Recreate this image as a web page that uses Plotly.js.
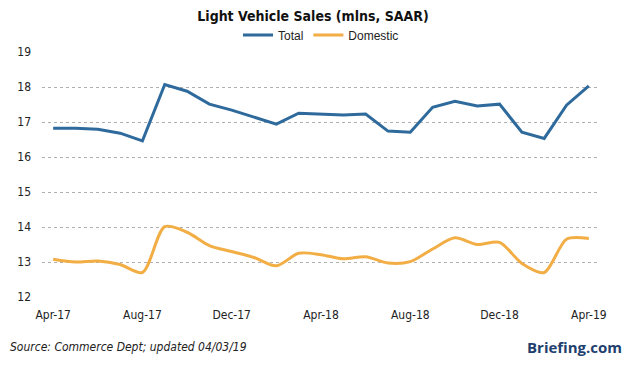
<!DOCTYPE html>
<html>
<head>
<meta charset="utf-8">
<script src="https://cdn.plot.ly/plotly-3.0.1.min.js"></script>
<style>html,body{margin:0;padding:0;background:#fff;}#chart{width:626px;height:367px;}</style>
</head>
<body>
<div id="chart"></div>
<script>
const months = ["Apr-17","May-17","Jun-17","Jul-17","Aug-17","Sep-17","Oct-17","Nov-17","Dec-17",
  "Jan-18","Feb-18","Mar-18","Apr-18","May-18","Jun-18","Jul-18","Aug-18","Sep-18","Oct-18","Nov-18","Dec-18",
  "Jan-19","Feb-19","Mar-19","Apr-19"];
const totalSales = [16.82,16.82,16.79,16.68,16.46,18.07,17.88,17.51,17.34,17.15,16.94,17.25,17.22,17.20,17.23,16.74,16.71,17.42,17.59,17.46,17.51,16.71,16.53,17.48,18.03];
const domesticSales = [13.08,13.00,13.03,12.93,12.70,14.01,13.85,13.47,13.30,13.13,12.89,13.25,13.21,13.09,13.15,12.97,13.01,13.37,13.69,13.50,13.56,12.96,12.70,13.65,13.67];
const tickLabels = ["Apr-17","Aug-17","Dec-17","Apr-18","Aug-18","Dec-18","Apr-19"];
const yTicks = [12,13,14,15,16,17,18,19];

const traces = [
  {x: months, y: totalSales, name: "Total", type: "scatter", mode: "lines",
   line: {color: "#2E6A9C", width: 3}},
  {x: months, y: domesticSales, name: "Domestic", type: "scatter", mode: "lines",
   line: {color: "#F2AE45", width: 3, shape: "spline", smoothing: 0.8}}
];

const layout = {
  width: 626, height: 367,
  margin: {l: 42, r: 26, t: 52, b: 70},
  paper_bgcolor: "#fff", plot_bgcolor: "#fff",
  font: {family: "Liberation Sans, Arial, sans-serif", size: 12, color: "#222"},
  title: {text: "<b>Light Vehicle Sales (mlns, SAAR)</b>", x: 0.5, xanchor: "center", y: 0.955, yanchor: "middle",
          font: {family: "DejaVu Sans Condensed, DejaVu Sans, sans-serif", size: 14, color: "#111"}},
  showlegend: true,
  legend: {orientation: "h", x: 0.5, xanchor: "center", y: 1.01, yanchor: "bottom",
           font: {family: "Liberation Sans Narrow, Liberation Sans, Arial, sans-serif", size: 12, color: "#222"},
           itemwidth: 30, tracegroupgap: 0, bgcolor: "rgba(0,0,0,0)"},
  xaxis: {type: "category", categoryorder: "array", categoryarray: months,
          tickmode: "array", tickvals: tickLabels, ticktext: tickLabels,
          range: [-0.5, 24.5], showgrid: false, showline: false, zeroline: false,
          ticks: "", ticklen: 0, ticklabelstandoff: 9,
          tickfont: {family: "DejaVu Sans Condensed, DejaVu Sans, sans-serif", size: 12, color: "#222"}},
  yaxis: {range: [12, 19], tickmode: "array", tickvals: yTicks, ticktext: yTicks.map(String),
          showgrid: true, gridcolor: "#B0B0B0", griddash: "dot", gridwidth: 1,
          zeroline: false, showline: false, ticks: "", ticklen: 0, ticklabelstandoff: 10,
          tickfont: {family: "DejaVu Sans Condensed, DejaVu Sans, sans-serif", size: 12, color: "#222"}},
  annotations: [
    {text: "<i>Source: Commerce Dept; updated 04/03/19</i>", xref: "paper", yref: "paper",
     x: -0.061, y: -0.205, xanchor: "left", yanchor: "middle", showarrow: false,
     font: {family: "DejaVu Sans Condensed, DejaVu Sans, sans-serif", size: 12, color: "#222"}},
    {text: "<b>Briefing.com</b>", xref: "paper", yref: "paper",
     x: 1.043, y: -0.205, xanchor: "right", yanchor: "middle", showarrow: false,
     font: {family: "Open Sans, DejaVu Sans, sans-serif", size: 15, color: "#1F3F6E"}}
  ]
};

Plotly.newPlot("chart", traces, layout, {displayModeBar: false, staticPlot: true});
</script>
</body>
</html>
